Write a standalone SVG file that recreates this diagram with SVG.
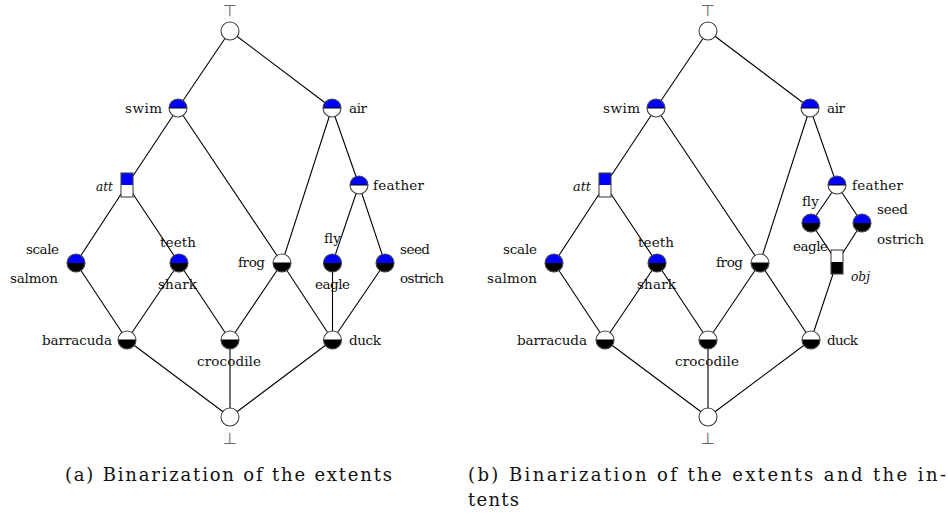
<svg xmlns="http://www.w3.org/2000/svg" xmlns:xlink="http://www.w3.org/1999/xlink" width="948" height="516" viewBox="0 0 948 516">
<style>
.e{stroke:#000;stroke-width:1.1;fill:none}
.bg{fill:#fff}
.o{fill:none;stroke:#444;stroke-width:1.1}
.dv{stroke:#000;stroke-width:1}
.bl{fill:#0000ff}
.bk{fill:#000}
.wh{fill:#fff}
.t{font-family:"DejaVu Serif","Liberation Serif",serif;font-size:13.5px;fill:#111}
.it{font-style:italic}
.sym{font-family:"DejaVu Sans",sans-serif;font-size:16px;fill:#666;text-anchor:middle}
.cap{font-family:"DejaVu Serif","Liberation Serif",serif;font-size:18px;fill:#111}
</style>
<defs>
<path id="top" d="M-9,0 A9,9 0 0 1 9,0 Z"/>
<path id="bot" d="M-9,0 A9,9 0 0 0 9,0 Z"/>
<g id="plain"><circle r="9" class="bg"/><circle r="9" class="o"/></g>
<g id="bw"><circle r="9" class="bg"/><use href="#top" class="bl"/><line x1="-9" y1="0" x2="9" y2="0" class="dv"/><circle r="9" class="o"/></g>
<g id="bk"><circle r="9" class="bg"/><use href="#top" class="bl"/><use href="#bot" class="bk"/><circle r="9" class="o"/></g>
<g id="wk"><circle r="9" class="bg"/><use href="#bot" class="bk"/><line x1="-9" y1="0" x2="9" y2="0" class="dv"/><circle r="9" class="o"/></g>
<g id="sqbw"><rect x="-6" y="-12" width="12" height="12" class="bl"/><rect x="-6" y="0" width="12" height="12" class="wh"/><rect x="-6" y="-12" width="12" height="24" class="o"/></g>
<g id="sqwk"><rect x="-6" y="-12" width="12" height="12" class="wh"/><rect x="-6" y="0" width="12" height="12" class="bk"/><rect x="-6" y="-12" width="12" height="24" class="o"/></g>
</defs>

<g id="connectors-a">
<line class="e" x1="230" y1="31" x2="178" y2="108"/>
<line class="e" x1="230" y1="31" x2="332" y2="108"/>
<line class="e" x1="178" y1="108" x2="127" y2="185"/>
<line class="e" x1="178" y1="108" x2="282" y2="263"/>
<line class="e" x1="332" y1="108" x2="282" y2="263"/>
<line class="e" x1="332" y1="108" x2="359" y2="185"/>
<line class="e" x1="127" y1="185" x2="76" y2="263"/>
<line class="e" x1="127" y1="185" x2="179" y2="263"/>
<line class="e" x1="359" y1="185" x2="332.5" y2="263"/>
<line class="e" x1="359" y1="185" x2="385" y2="263"/>
<line class="e" x1="76" y1="263" x2="127" y2="340"/>
<line class="e" x1="179" y1="263" x2="127" y2="340"/>
<line class="e" x1="179" y1="263" x2="230" y2="340"/>
<line class="e" x1="282" y1="263" x2="230" y2="340"/>
<line class="e" x1="282" y1="263" x2="332.5" y2="340"/>
<line class="e" x1="332.5" y1="263" x2="332.5" y2="340"/>
<line class="e" x1="385" y1="263" x2="332.5" y2="340"/>
<line class="e" x1="127" y1="340" x2="230" y2="417"/>
<line class="e" x1="230" y1="340" x2="230" y2="417"/>
<line class="e" x1="332.5" y1="340" x2="230" y2="417"/>
</g>

<g id="connectors-b">
<line class="e" x1="708" y1="31" x2="656" y2="108"/>
<line class="e" x1="708" y1="31" x2="810" y2="108"/>
<line class="e" x1="656" y1="108" x2="605" y2="185"/>
<line class="e" x1="656" y1="108" x2="760" y2="263"/>
<line class="e" x1="810" y1="108" x2="760" y2="263"/>
<line class="e" x1="810" y1="108" x2="837" y2="185"/>
<line class="e" x1="605" y1="185" x2="554" y2="263"/>
<line class="e" x1="605" y1="185" x2="657" y2="263"/>
<line class="e" x1="837" y1="185" x2="811" y2="223"/>
<line class="e" x1="837" y1="185" x2="862" y2="223"/>
<line class="e" x1="811" y1="223" x2="837" y2="262"/>
<line class="e" x1="862" y1="223" x2="837" y2="262"/>
<line class="e" x1="837" y1="262" x2="811" y2="340"/>
<line class="e" x1="554" y1="263" x2="605" y2="340"/>
<line class="e" x1="657" y1="263" x2="605" y2="340"/>
<line class="e" x1="657" y1="263" x2="708" y2="340"/>
<line class="e" x1="760" y1="263" x2="708" y2="340"/>
<line class="e" x1="760" y1="263" x2="811" y2="340"/>
<line class="e" x1="605" y1="340" x2="708" y2="417"/>
<line class="e" x1="708" y1="340" x2="708" y2="417"/>
<line class="e" x1="811" y1="340" x2="708" y2="417"/>
</g>

<!-- Diagram (a) nodes -->
<g id="a-top"><use href="#plain" x="230" y="31"/><text class="sym" x="230" y="16">⊤</text></g>
<g id="a-swim"><use href="#bw" x="178" y="108"/><text class="t" x="125" y="113" textLength="37" lengthAdjust="spacing">swim</text></g>
<g id="a-air"><use href="#bw" x="332" y="108"/><text class="t" x="349" y="113" textLength="18" lengthAdjust="spacing">air</text></g>
<g id="a-att"><use href="#sqbw" x="127" y="185"/><text class="t it" x="96" y="191" textLength="17" lengthAdjust="spacingAndGlyphs">att</text></g>
<g id="a-feather"><use href="#bw" x="359" y="185"/><text class="t" x="373" y="190" textLength="51" lengthAdjust="spacing">feather</text></g>
<g id="a-salmon"><use href="#bk" x="76" y="263"/><text class="t" x="26" y="254" textLength="33" lengthAdjust="spacing">scale</text><text class="t" x="10" y="283" textLength="48" lengthAdjust="spacing">salmon</text></g>
<g id="a-shark"><use href="#bk" x="179" y="263"/><text class="t" x="160" y="247" textLength="36" lengthAdjust="spacing">teeth</text><text class="t" x="158" y="289" textLength="39" lengthAdjust="spacing">shark</text></g>
<g id="a-frog"><use href="#wk" x="282" y="263"/><text class="t" x="238" y="267" textLength="27" lengthAdjust="spacing">frog</text></g>
<g id="a-eagle"><use href="#bk" x="332.5" y="263"/><text class="t" x="324" y="243" textLength="17" lengthAdjust="spacing">fly</text><text class="t" x="315" y="289" textLength="35" lengthAdjust="spacing">eagle</text></g>
<g id="a-ostrich"><use href="#bk" x="385" y="263"/><text class="t" x="400" y="254" textLength="30" lengthAdjust="spacing">seed</text><text class="t" x="400" y="283" textLength="44" lengthAdjust="spacing">ostrich</text></g>
<g id="a-barracuda"><use href="#wk" x="127" y="340"/><text class="t" x="42" y="345" textLength="70" lengthAdjust="spacing">barracuda</text></g>
<g id="a-crocodile"><use href="#wk" x="230" y="340"/><text class="t" x="197" y="366" textLength="64" lengthAdjust="spacing">crocodile</text></g>
<g id="a-duck"><use href="#wk" x="332.5" y="340"/><text class="t" x="349" y="345" textLength="32" lengthAdjust="spacing">duck</text></g>
<g id="a-bottom"><use href="#plain" x="230" y="417"/><text class="sym" x="230" y="444">⊥</text></g>

<!-- Diagram (b) nodes -->
<g id="b-top"><use href="#plain" x="708" y="31"/><text class="sym" x="708" y="16">⊤</text></g>
<g id="b-swim"><use href="#bw" x="656" y="108"/><text class="t" x="603" y="113" textLength="37" lengthAdjust="spacing">swim</text></g>
<g id="b-air"><use href="#bw" x="810" y="108"/><text class="t" x="827" y="113" textLength="18" lengthAdjust="spacing">air</text></g>
<g id="b-att"><use href="#sqbw" x="605" y="185"/><text class="t it" x="573" y="191" textLength="18" lengthAdjust="spacingAndGlyphs">att</text></g>
<g id="b-feather"><use href="#bw" x="837" y="185"/><text class="t" x="852" y="190" textLength="51" lengthAdjust="spacing">feather</text></g>
<g id="b-eagle"><use href="#bk" x="811" y="223"/><text class="t" x="802" y="206" textLength="17" lengthAdjust="spacing">fly</text><text class="t" x="793" y="251" textLength="35" lengthAdjust="spacing">eagle</text></g>
<g id="b-ostrich"><use href="#bk" x="862" y="223"/><text class="t" x="877" y="214" textLength="31" lengthAdjust="spacing">seed</text><text class="t" x="877" y="244" textLength="47" lengthAdjust="spacing">ostrich</text></g>
<g id="b-obj"><use href="#sqwk" x="837" y="262"/><text class="t it" x="851" y="281" textLength="19" lengthAdjust="spacingAndGlyphs">obj</text></g>
<g id="b-salmon"><use href="#bk" x="554" y="263"/><text class="t" x="503" y="254" textLength="34" lengthAdjust="spacing">scale</text><text class="t" x="487" y="283" textLength="50" lengthAdjust="spacing">salmon</text></g>
<g id="b-shark"><use href="#bk" x="657" y="263"/><text class="t" x="638" y="247" textLength="36" lengthAdjust="spacing">teeth</text><text class="t" x="637" y="289" textLength="39" lengthAdjust="spacing">shark</text></g>
<g id="b-frog"><use href="#wk" x="760" y="263"/><text class="t" x="716" y="267" textLength="27" lengthAdjust="spacing">frog</text></g>
<g id="b-barracuda"><use href="#wk" x="605" y="340"/><text class="t" x="517" y="345" textLength="70" lengthAdjust="spacing">barracuda</text></g>
<g id="b-crocodile"><use href="#wk" x="708" y="340"/><text class="t" x="675" y="366" textLength="64" lengthAdjust="spacing">crocodile</text></g>
<g id="b-duck"><use href="#wk" x="811" y="340"/><text class="t" x="827" y="345" textLength="31" lengthAdjust="spacing">duck</text></g>
<g id="b-bottom"><use href="#plain" x="708" y="417"/><text class="sym" x="708" y="444">⊥</text></g>

<g id="captions">
<text class="cap" x="65" y="481" textLength="327" lengthAdjust="spacing">(a) Binarization of the extents</text>
<text class="cap" x="468" y="481" textLength="478" lengthAdjust="spacing">(b) Binarization of the extents and the in-</text>
<text class="cap" x="468" y="506" textLength="51" lengthAdjust="spacing">tents</text>
</g>
</svg>
